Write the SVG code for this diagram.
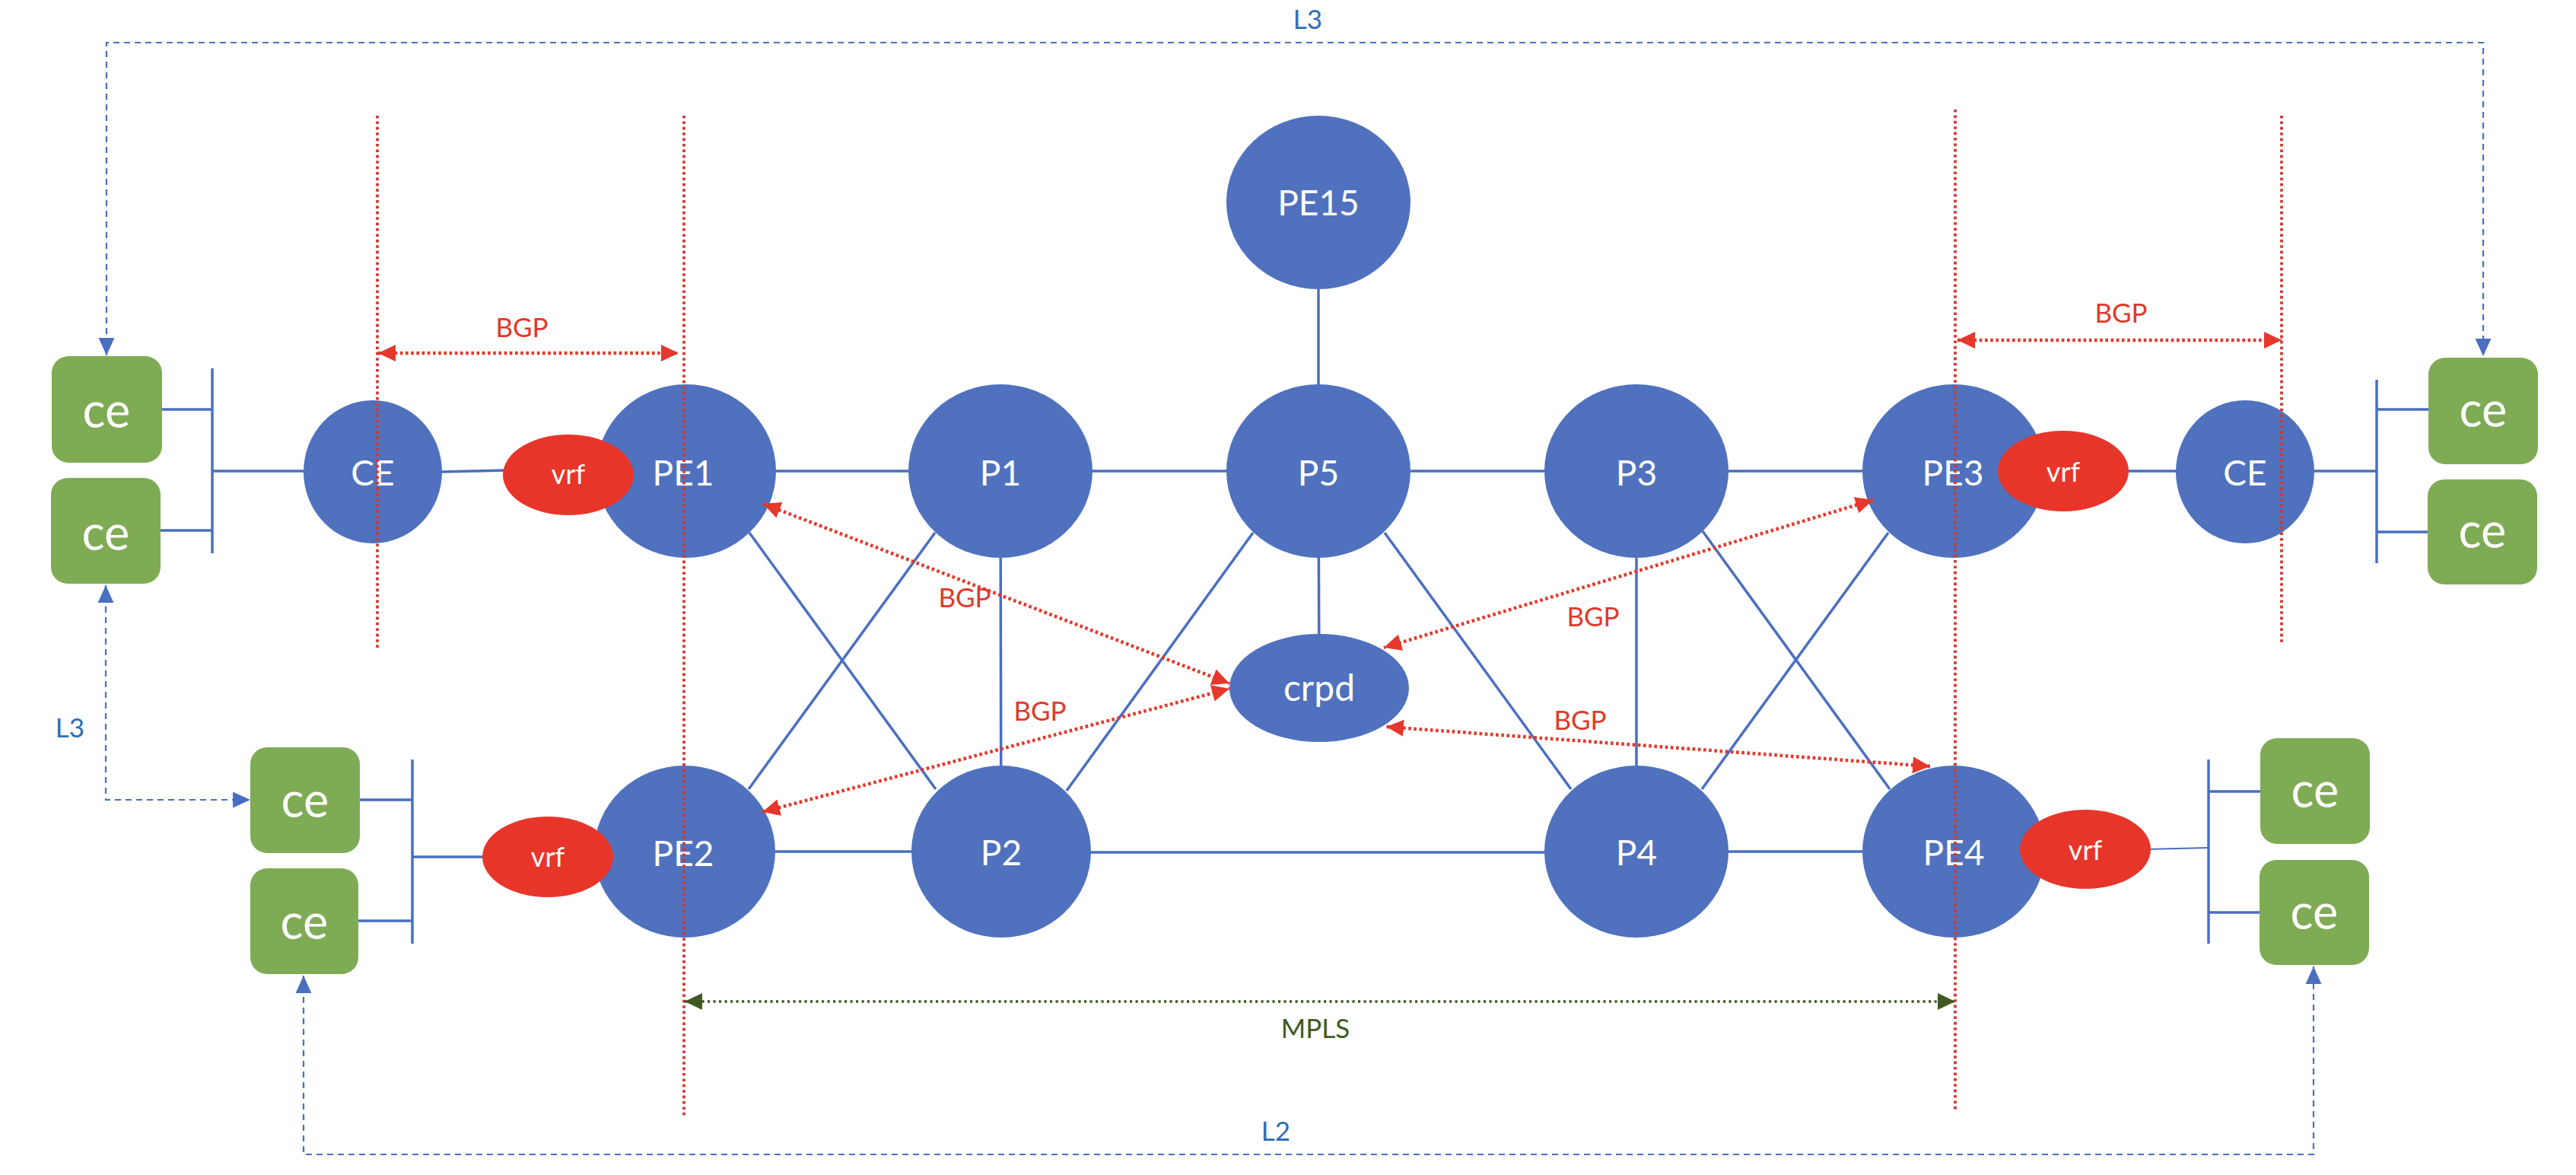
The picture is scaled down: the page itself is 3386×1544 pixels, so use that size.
<svg xmlns="http://www.w3.org/2000/svg" width="3386" height="1544" viewBox="0 0 3386 1544">
<style>
.bg{fill:#ffffff}
.node{fill:#4F71BE}
.vrf{fill:#E8352A}
.ce{fill:#7FAB55}
.lbl{font-family:Lato,"Liberation Sans",sans-serif;fill:#ffffff;text-anchor:middle}
.big{font-size:46px}
.cet{font-size:63px}
.vt{font-size:36px}
.link{stroke:#4A6FC0;stroke-width:3.5;fill:none}
.thin{stroke:#4A6FC0;stroke-width:2.2;fill:none}
.lvl{stroke:#4A6FC0;stroke-width:2.2;fill:none;stroke-dasharray:8 6}
.vline{stroke:#CC3A36;stroke-width:3.8;fill:none;stroke-dasharray:3.6 3.8}
.bgp{stroke:#E5372B;stroke-width:4.5;fill:none;stroke-dasharray:3.6 3.6}
.mpls{stroke:#3F5A22;stroke-width:3.4;fill:none;stroke-dasharray:3.2 4.3}
.rt{font-family:Lato,"Liberation Sans",sans-serif;font-size:35px;fill:#E0392B;text-anchor:middle}
.gt{font-family:Lato,"Liberation Sans",sans-serif;font-size:35px;fill:#3F5A22;text-anchor:middle}
.bt{font-family:Lato,"Liberation Sans",sans-serif;font-size:35px;fill:#2E6DB4;text-anchor:middle}
</style>
<defs>
<marker id="ar" markerUnits="userSpaceOnUse" markerWidth="24" markerHeight="24" refX="23" refY="11" orient="auto-start-reverse" viewBox="0 0 24 22">
<path d="M0,0 L23,11 L0,22 z" fill="#E5372B"/>
</marker>
<marker id="ag" markerUnits="userSpaceOnUse" markerWidth="24" markerHeight="24" refX="23" refY="11" orient="auto-start-reverse" viewBox="0 0 24 22">
<path d="M0,0 L23,11 L0,22 z" fill="#3F5A22"/>
</marker>
<marker id="ab" markerUnits="userSpaceOnUse" markerWidth="24" markerHeight="24" refX="22" refY="10" orient="auto-start-reverse" viewBox="0 0 23 20">
<path d="M0,0 L22,10 L0,20 z" fill="#4A6FC0"/>
</marker>
</defs>
<rect class="bg" x="0" y="0" width="3386" height="1544"/>

<g id="links">
<line class="link" x1="213" y1="538" x2="279" y2="538"/>
<line class="link" x1="211" y1="697" x2="279" y2="697"/>
<line class="link" x1="279" y1="484" x2="279" y2="727"/>
<line class="link" x1="279" y1="619" x2="400" y2="619"/>
<line class="link" x1="580" y1="620" x2="665" y2="618"/>
<line class="link" x1="902" y1="619" x2="1315" y2="619"/>
<line class="link" x1="1315" y1="619" x2="1733" y2="619"/>
<line class="link" x1="1733" y1="619" x2="2151" y2="619"/>
<line class="link" x1="2151" y1="619" x2="2568" y2="619"/>
<line class="link" x1="2790" y1="619" x2="2865" y2="619"/>
<line class="link" x1="3040" y1="619" x2="3124" y2="619"/>
<line class="link" x1="3124" y1="499" x2="3124" y2="740"/>
<line class="link" x1="3124" y1="538" x2="3192" y2="538"/>
<line class="link" x1="3124" y1="699" x2="3191" y2="699"/>
<line class="link" x1="1733" y1="266" x2="1733" y2="619"/>
<line class="link" x1="1733" y1="619" x2="1734" y2="904"/>
<line class="link" x1="1315" y1="619" x2="1316" y2="1119"/>
<line class="link" x1="2151" y1="619" x2="2151" y2="1119"/>
<line class="link" x1="985" y1="700" x2="1230" y2="1037"/>
<line class="link" x1="1229" y1="700" x2="984" y2="1037"/>
<line class="link" x1="1647" y1="700" x2="1402" y2="1039"/>
<line class="link" x1="1820" y1="700" x2="2065" y2="1037"/>
<line class="link" x1="2238" y1="698" x2="2484" y2="1037"/>
<line class="link" x1="2237" y1="1037" x2="2482" y2="700"/>
<line class="link" x1="900" y1="1119" x2="1316" y2="1119"/>
<line class="link" x1="1316" y1="1120" x2="2151" y2="1120"/>
<line class="link" x1="2151" y1="1119" x2="2568" y2="1119"/>
<line class="link" x1="473" y1="1051" x2="542" y2="1051"/>
<line class="link" x1="471" y1="1210" x2="542" y2="1210"/>
<line class="link" x1="542" y1="998" x2="542" y2="1240"/>
<line class="link" x1="542" y1="1126" x2="640" y2="1126"/>
<line class="thin" x1="2820" y1="1116" x2="2903" y2="1114"/>
<line class="link" x1="2903" y1="998" x2="2903" y2="1240"/>
<line class="link" x1="2903" y1="1040" x2="2971" y2="1040"/>
<line class="link" x1="2903" y1="1199" x2="2970" y2="1199"/>
</g>

<g id="node-ce-tl1"><rect class="ce" x="68" y="468" width="145" height="140" rx="22"/><text class="lbl cet" x="140" y="562">ce</text></g>
<g id="node-ce-tl2"><rect class="ce" x="67" y="628" width="144" height="139" rx="22"/><text class="lbl cet" x="139" y="723">ce</text></g>
<g id="node-ce-bl1"><rect class="ce" x="329" y="982" width="144" height="139" rx="22"/><text class="lbl cet" x="401" y="1074">ce</text></g>
<g id="node-ce-bl2"><rect class="ce" x="329" y="1141" width="142" height="139" rx="22"/><text class="lbl cet" x="400" y="1234">ce</text></g>
<g id="node-ce-tr1"><rect class="ce" x="3192" y="470" width="144" height="140" rx="22"/><text class="lbl cet" x="3264" y="561">ce</text></g>
<g id="node-ce-tr2"><rect class="ce" x="3191" y="630" width="144" height="138" rx="22"/><text class="lbl cet" x="3263" y="720">ce</text></g>
<g id="node-ce-br1"><rect class="ce" x="2971" y="970" width="144" height="139" rx="22"/><text class="lbl cet" x="3043" y="1061">ce</text></g>
<g id="node-ce-br2"><rect class="ce" x="2970" y="1130" width="144" height="138" rx="22"/><text class="lbl cet" x="3042" y="1221">ce</text></g>

<g id="node-CE-left"><ellipse class="node" cx="490" cy="620" rx="91" ry="94"/><text class="lbl big" x="490" y="638">CE</text></g>
<g id="node-CE-right"><ellipse class="node" cx="2951" cy="620" rx="91" ry="94"/><text class="lbl big" x="2951" y="638">CE</text></g>
<g id="node-PE15"><ellipse class="node" cx="1733" cy="266" rx="121" ry="114"/><text class="lbl big" x="1733" y="283">PE15</text></g>
<g id="node-PE1"><ellipse class="node" cx="902" cy="619" rx="118" ry="114"/><text class="lbl big" x="898" y="638">PE1</text></g>
<g id="node-P1"><ellipse class="node" cx="1315" cy="619" rx="121" ry="114"/><text class="lbl big" x="1315" y="638">P1</text></g>
<g id="node-P5"><ellipse class="node" cx="1733" cy="619" rx="121" ry="114"/><text class="lbl big" x="1733" y="638">P5</text></g>
<g id="node-P3"><ellipse class="node" cx="2151" cy="619" rx="121" ry="114"/><text class="lbl big" x="2151" y="638">P3</text></g>
<g id="node-PE3"><ellipse class="node" cx="2568" cy="619" rx="120" ry="114"/><text class="lbl big" x="2567" y="638">PE3</text></g>
<g id="node-PE2"><ellipse class="node" cx="900" cy="1119" rx="119" ry="113"/><text class="lbl big" x="898" y="1138">PE2</text></g>
<g id="node-P2"><ellipse class="node" cx="1316" cy="1119" rx="118" ry="113"/><text class="lbl big" x="1316" y="1137">P2</text></g>
<g id="node-P4"><ellipse class="node" cx="2151" cy="1119" rx="121" ry="113"/><text class="lbl big" x="2151" y="1137">P4</text></g>
<g id="node-PE4"><ellipse class="node" cx="2568" cy="1119" rx="120" ry="113"/><text class="lbl big" x="2568" y="1137">PE4</text></g>
<g id="node-crpd"><ellipse class="node" cx="1734" cy="904" rx="118" ry="71"/><text class="lbl" style="font-size:48px" x="1734" y="921">crpd</text></g>
<g id="node-vrf1"><ellipse class="vrf" cx="747" cy="624" rx="86" ry="53"/><text class="lbl vt" x="747" y="636">vrf</text></g>
<g id="node-vrf3"><ellipse class="vrf" cx="2712" cy="619" rx="86" ry="53"/><text class="lbl vt" x="2712" y="633">vrf</text></g>
<g id="node-vrf2"><ellipse class="vrf" cx="720" cy="1126" rx="86" ry="53"/><text class="lbl vt" x="720" y="1139">vrf</text></g>
<g id="node-vrf4"><ellipse class="vrf" cx="2741" cy="1116" rx="86" ry="52"/><text class="lbl vt" x="2741" y="1130">vrf</text></g>

<g id="overlays">
<line class="vline" x1="496" y1="152" x2="496" y2="851"/>
<line class="vline" x1="899" y1="152" x2="899" y2="1466"/>
<line class="vline" x1="2570" y1="144" x2="2570" y2="1459"/>
<line class="vline" x1="2999" y1="152" x2="2999" y2="845"/>
<line class="bgp" x1="497" y1="464" x2="892" y2="464" marker-start="url(#ar)" marker-end="url(#ar)"/>
<line class="bgp" x1="2573" y1="447" x2="2999" y2="447" marker-start="url(#ar)" marker-end="url(#ar)"/>
<line class="bgp" x1="1003" y1="662" x2="1616" y2="898" marker-start="url(#ar)" marker-end="url(#ar)"/>
<line class="bgp" x1="1002" y1="1067" x2="1616" y2="905" marker-start="url(#ar)" marker-end="url(#ar)"/>
<line class="bgp" x1="2462" y1="657" x2="1819" y2="851" marker-start="url(#ar)" marker-end="url(#ar)"/>
<line class="bgp" x1="2537" y1="1007" x2="1822" y2="955" marker-start="url(#ar)" marker-end="url(#ar)"/>
<line class="mpls" x1="900" y1="1316" x2="2570" y2="1316" marker-start="url(#ag)" marker-end="url(#ag)"/>
<path class="lvl" d="M140,467 V56 H3264 V468" marker-start="url(#ab)" marker-end="url(#ab)"/>
<path class="lvl" d="M139,769 V1051 H329" marker-start="url(#ab)" marker-end="url(#ab)"/>
<path class="lvl" d="M399,1282 V1517 H3041 V1270" marker-start="url(#ab)" marker-end="url(#ab)"/>
<text class="rt" x="686" y="443">BGP</text>
<text class="rt" x="2788" y="424">BGP</text>
<text class="rt" x="1268" y="798">BGP</text>
<text class="rt" x="1367" y="947">BGP</text>
<text class="rt" x="2094" y="823">BGP</text>
<text class="rt" x="2077" y="959">BGP</text>
<text class="gt" x="1729" y="1364">MPLS</text>
<text class="bt" x="1677" y="1499">L2</text>
<text class="bt" x="92" y="969">L3</text>
<text class="bt" x="1719" y="38">L3</text>
</g>
</svg>
